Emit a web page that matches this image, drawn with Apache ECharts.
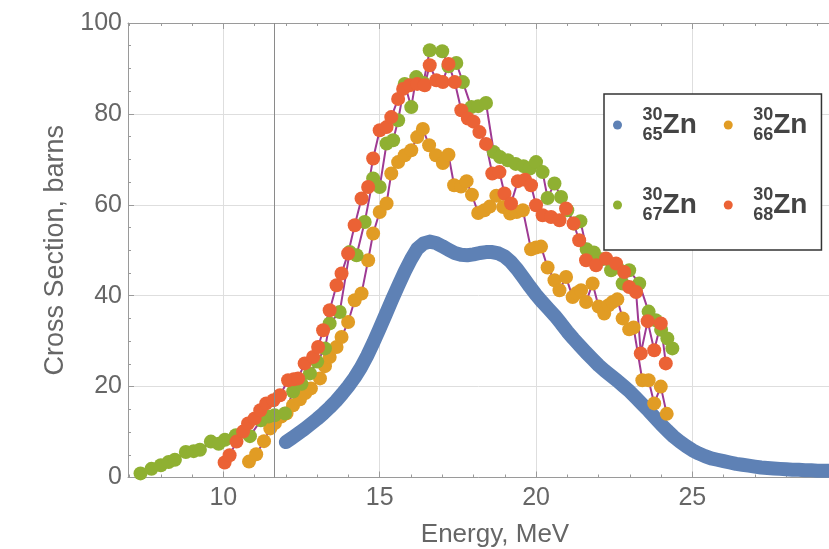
<!DOCTYPE html>
<html>
<head>
<meta charset="utf-8">
<script src="https://cdn.jsdelivr.net/npm/echarts@6/dist/echarts.min.js"></script>
<style>
  html, body { margin: 0; padding: 0; background: #fff; }
  #main { width: 829px; height: 549px; }
</style>
</head>
<body>
<div id="main"></div>
<script>
var FONT = "'Liberation Sans', Arial, sans-serif";

// x ticks (major with labels, minor without)
var majorX = [10, 15, 20, 25];
var minorX = [7, 8, 9, 11, 12, 13, 14, 16, 17, 18, 19, 21, 22, 23, 24, 26, 27, 28, 29];
var cursorEnergy = 11.62;

// 65Zn (dense curve)
var energy65 = [12.0, 12.2, 12.4, 12.6, 12.8, 13.0, 13.2, 13.4, 13.6, 13.8,
  14.0, 14.2, 14.4, 14.6, 14.8, 15.0, 15.2, 15.4, 15.6, 15.8,
  16.0, 16.2, 16.4, 16.6, 16.8, 17.0, 17.2, 17.4, 17.6, 17.8,
  18.0, 18.2, 18.4, 18.6, 18.8, 19.0, 19.2, 19.4, 19.6, 19.8,
  20.0, 20.2, 20.4, 20.6, 20.8, 21.0, 21.2, 21.4, 21.6, 21.8,
  22.0, 22.2, 22.4, 22.6, 22.8, 23.0, 23.2, 23.4, 23.6, 23.8,
  24.0, 24.2, 24.4, 24.6, 24.8, 25.0, 25.2, 25.4, 25.6, 25.8,
  26.0, 26.2, 26.4, 26.6, 26.8, 27.0, 27.2, 27.4, 27.6, 27.8,
  28.0, 28.2, 28.4, 28.6, 28.8, 29.0, 29.2, 29.4];
var sigma65 = [7.8, 8.7, 9.7, 10.7, 11.8, 12.9, 14.1, 15.4, 16.8, 18.4,
  20.1, 22.0, 24.2, 26.8, 29.7, 32.8, 36.0, 39.2, 42.3, 45.3,
  48.0, 50.3, 51.5, 51.9, 51.6, 50.9, 50.1, 49.4, 49.0, 48.9,
  49.1, 49.4, 49.6, 49.6, 49.3, 48.6, 47.4, 45.8, 43.9, 42.0,
  40.2, 38.6, 37.1, 35.6, 33.9, 32.1, 30.5, 29.0, 27.5, 26.1,
  24.7, 23.5, 22.4, 21.3, 20.1, 18.9, 17.5, 16.1, 14.7, 13.2,
  11.7, 10.3, 9.0, 7.9, 6.9, 6.0, 5.3, 4.7, 4.2, 3.9,
  3.6, 3.3, 3.0, 2.8, 2.6, 2.4, 2.2, 2.1, 2.0, 1.9,
  1.8, 1.7, 1.7, 1.6, 1.6, 1.5, 1.5, 1.5];

// 66Zn
var energy66 = [10.82, 11.05, 11.3, 11.5, 11.65, 11.85, 12.02, 12.23, 12.45, 12.62,
  12.8, 13.09, 13.25, 13.4, 13.62, 13.78, 13.99, 14.2, 14.42, 14.63,
  14.79, 15.0, 15.22, 15.37, 15.59, 15.8, 16.01, 16.2, 16.38, 16.58,
  16.8, 17.02, 17.2, 17.38, 17.6, 17.78, 17.95, 18.15, 18.35, 18.52,
  18.73, 18.95, 19.17, 19.38, 19.58, 19.84, 20.0, 20.16, 20.37, 20.59,
  20.75, 20.96, 21.17, 21.3, 21.44, 21.6, 21.81, 22.0, 22.18, 22.32,
  22.45, 22.6, 22.77, 22.98, 23.12, 23.4, 23.6, 23.78, 23.99, 24.18];
var sigma66 = [3.5, 5.1, 8.0, 10.8, 12.0, 13.4, 14.1, 15.9, 17.2, 18.6,
  19.6, 21.8, 24.5, 26.5, 28.7, 30.9, 34.2, 39.0, 40.5, 47.8,
  53.7, 58.4, 60.3, 66.9, 69.4, 70.9, 72.0, 74.9, 76.7, 73.1,
  70.9, 69.2, 71.0, 64.3, 64.0, 65.2, 62.2, 58.2, 58.8, 59.6,
  62.0, 59.5, 58.1, 58.4, 58.8, 50.2, 50.6, 50.8, 46.2, 43.4,
  41.2, 44.1, 39.7, 40.6, 41.2, 38.6, 42.7, 37.6, 36.1, 37.9,
  38.6, 39.2, 35.0, 32.6, 33.0, 21.4, 21.4, 16.3, 20.0, 14.0];

// 67Zn
var energy67 = [7.35, 7.7, 8.0, 8.25, 8.45, 8.8, 9.05, 9.25, 9.6, 9.85,
  10.05, 10.4, 10.65, 10.85, 11.2, 11.45, 11.64, 11.97, 12.23, 12.5,
  12.77, 13.0, 13.25, 13.4, 13.72, 14.04, 14.26, 14.52, 14.79, 15.0,
  15.22, 15.43, 15.59, 15.8, 16.01, 16.17, 16.4, 16.6, 17.0, 17.2,
  17.45, 17.66, 17.93, 18.15, 18.4, 18.65, 18.85, 19.1, 19.35, 19.6,
  19.8, 20.0, 20.21, 20.37, 20.59, 20.8, 21.0, 21.22, 21.42, 21.62,
  21.85, 22.1, 22.4, 22.6, 22.77, 22.98, 23.3, 23.6, 23.83, 24.0,
  24.2, 24.36];
var sigma67 = [0.9, 1.9, 2.7, 3.4, 3.9, 5.6, 5.8, 6.1, 7.9, 7.4,
  8.3, 9.3, 10.1, 9.1, 12.6, 13.4, 13.7, 14.1, 18.9, 20.6,
  22.9, 25.5, 28.4, 33.9, 36.4, 49.6, 48.9, 56.2, 65.8, 63.9,
  73.5, 74.2, 78.6, 86.6, 81.5, 88.1, 86.8, 94.0, 93.8, 90.5,
  91.2, 87.0, 81.5, 81.7, 82.4, 71.6, 70.5, 69.8, 69.0, 68.5,
  68.0, 69.4, 67.2, 61.5, 64.7, 61.7, 58.8, 55.9, 56.4, 50.2,
  49.5, 48.0, 45.6, 46.2, 42.7, 45.6, 42.7, 36.5, 34.6, 32.5,
  30.6, 28.4];

// 68Zn
var energy68 = [10.04, 10.2, 10.42, 10.63, 10.79, 11.0, 11.18, 11.37, 11.6, 11.81,
  12.07, 12.25, 12.39, 12.6, 12.87, 13.03, 13.19, 13.4, 13.62, 13.78,
  13.99, 14.2, 14.42, 14.63, 14.79, 15.0, 15.22, 15.37, 15.59, 15.75,
  15.96, 16.2, 16.44, 16.6, 16.81, 17.02, 17.2, 17.4, 17.61, 17.82,
  18.0, 18.19, 18.4, 18.6, 18.83, 18.99, 19.2, 19.42, 19.65, 19.84,
  20.0, 20.21, 20.48, 20.75, 20.96, 21.2, 21.38, 21.6, 21.92, 22.24,
  22.56, 22.82, 22.98, 23.2, 23.35, 23.57, 23.78, 23.99, 24.15];
var sigma68 = [3.3, 4.9, 7.9, 10.1, 11.9, 13.0, 14.8, 16.3, 17.0, 18.1,
  21.4, 21.6, 21.8, 25.1, 26.5, 28.7, 32.4, 36.8, 42.3, 44.9,
  49.3, 55.5, 61.4, 63.9, 70.2, 76.4, 77.1, 79.3, 83.3, 85.5,
  86.3, 86.6, 86.3, 90.7, 87.4, 87.0, 91.0, 87.0, 80.8, 79.0,
  78.3, 76.0, 73.4, 66.9, 67.2, 62.5, 60.3, 65.2, 65.5, 64.3,
  59.9, 57.7, 57.3, 56.6, 59.2, 55.9, 52.2, 47.8, 46.7, 48.2,
  47.1, 45.2, 41.9, 40.8, 27.3, 34.4, 28.0, 33.9, 25.1];

var seriesNames = ['65Zn', '66Zn', '67Zn', '68Zn'];
var massNumbers = ['65', '66', '67', '68'];
var atomicNumber = '30';

function pairs(xs, ys) {
  return xs.map(function (x, i) { return [x, ys[i]]; });
}

var dom = document.getElementById('main');
var myChart = echarts.init(dom, null, { renderer: 'canvas' });

var axisGray = '#9a9a9a';
var gridGray = '#dedede';
var textGray = '#666666';
var joinColor = '#9e3a93';

function dotSeries(name, xs, ys, color) {
  return {
    name: name,
    type: 'line',
    data: pairs(xs, ys),
    symbol: 'circle',
    symbolSize: 14,
    showAllSymbol: true,
    itemStyle: { color: color },
    lineStyle: { color: joinColor, width: 2 },
    emphasis: { disabled: true }
  };
}

var xMin = 6.95, xMax = 29.37;

var option = {
  animation: false,
  backgroundColor: '#fff',
  grid: { left: 128, top: 23, right: 0, bottom: 71.5, outerBoundsMode: 'none' },
  legend: {
    data: seriesNames,
    left: 604,
    top: 94,
    width: 210,
    orient: 'horizontal',
    icon: 'circle',
    itemWidth: 14,
    itemHeight: 9,
    itemGap: 27,
    padding: [12, 14, 11, 9],
    borderColor: '#333',
    borderWidth: 1.5,
    backgroundColor: '#fff',
    selectedMode: false,
    formatter: function (name) {
      var m = massNumbers[seriesNames.indexOf(name)];
      return '{u|' + atomicNumber + '}\n{l|' + m + '}{z|Zn}';
    },
    textStyle: {
      padding: [0, 0, 0, 13],
      rich: {
        u: { fontFamily: FONT, fontSize: 18, fontWeight: 'bold', color: '#444', lineHeight: 20, verticalAlign: 'middle' },
        l: { fontFamily: FONT, fontSize: 18, fontWeight: 'bold', color: '#444', lineHeight: 20, verticalAlign: 'middle' },
        z: { fontFamily: FONT, fontSize: 28, fontWeight: 'bold', color: '#444', lineHeight: 20, verticalAlign: 'middle', padding: [0, 0, 20, 0] }
      }
    }
  },
  xAxis: [
    {
      type: 'value', min: xMin, max: xMax, position: 'bottom',
      name: 'Energy, MeV', nameLocation: 'middle', nameGap: 44,
      nameTextStyle: { fontFamily: FONT, fontSize: 26, color: textGray, padding: [0, 0, 0, 33] },
      axisLine: { show: true, lineStyle: { color: axisGray, width: 1 } },
      axisTick: { show: true, inside: true, length: 6, customValues: majorX, lineStyle: { color: axisGray } },
      axisLabel: { customValues: majorX, fontFamily: FONT, fontSize: 25, color: textGray, margin: 8 },
      splitLine: { show: true, lineStyle: { color: gridGray, width: 1 } }
    },
    {
      type: 'value', min: xMin, max: xMax, position: 'bottom',
      axisLine: { show: false },
      axisTick: { show: true, inside: true, length: 3, customValues: minorX, lineStyle: { color: axisGray } },
      axisLabel: { show: false },
      splitLine: { show: false }
    },
    {
      type: 'value', min: xMin, max: xMax, position: 'top',
      axisLine: { show: true, lineStyle: { color: axisGray, width: 1 } },
      axisTick: { show: true, inside: true, length: 6, customValues: majorX, lineStyle: { color: axisGray } },
      axisLabel: { show: false },
      splitLine: { show: false }
    },
    {
      type: 'value', min: xMin, max: xMax, position: 'top',
      axisLine: { show: false },
      axisTick: { show: true, inside: true, length: 3, customValues: minorX, lineStyle: { color: axisGray } },
      axisLabel: { show: false },
      splitLine: { show: false }
    }
  ],
  yAxis: {
    type: 'value', min: 0, max: 100, interval: 20,
    name: 'Cross Section, barns', nameLocation: 'middle', nameGap: 58, nameRotate: 90,
    nameTextStyle: { fontFamily: FONT, fontSize: 27, color: textGray },
    axisLine: { show: true, lineStyle: { color: axisGray, width: 1 } },
    axisTick: { show: true, inside: true, length: 6, lineStyle: { color: axisGray } },
    minorTick: { show: true, splitNumber: 4, length: 3, lineStyle: { color: axisGray } },
    axisLabel: { fontFamily: FONT, fontSize: 25, color: textGray, margin: 6 },
    splitLine: { show: true, lineStyle: { color: gridGray, width: 1 } }
  },
  series: [
    {
      name: seriesNames[0],
      type: 'line',
      data: pairs(energy65, sigma65),
      showSymbol: false,
      itemStyle: { color: '#5e81b5' },
      lineStyle: { color: '#5e81b5', width: 14, cap: 'round', join: 'round' },
      emphasis: { disabled: true },
      markLine: {
        silent: true,
        symbol: 'none',
        label: { show: false },
        lineStyle: { color: '#8a8a8a', width: 1, type: 'solid' },
        data: [{ xAxis: cursorEnergy }]
      }
    },
    dotSeries(seriesNames[1], energy66, sigma66, '#e19c24'),
    dotSeries(seriesNames[2], energy67, sigma67, '#8fb032'),
    dotSeries(seriesNames[3], energy68, sigma68, '#eb6235')
  ]
};

myChart.setOption(option);
window.addEventListener('resize', myChart.resize);
</script>
</body>
</html>
